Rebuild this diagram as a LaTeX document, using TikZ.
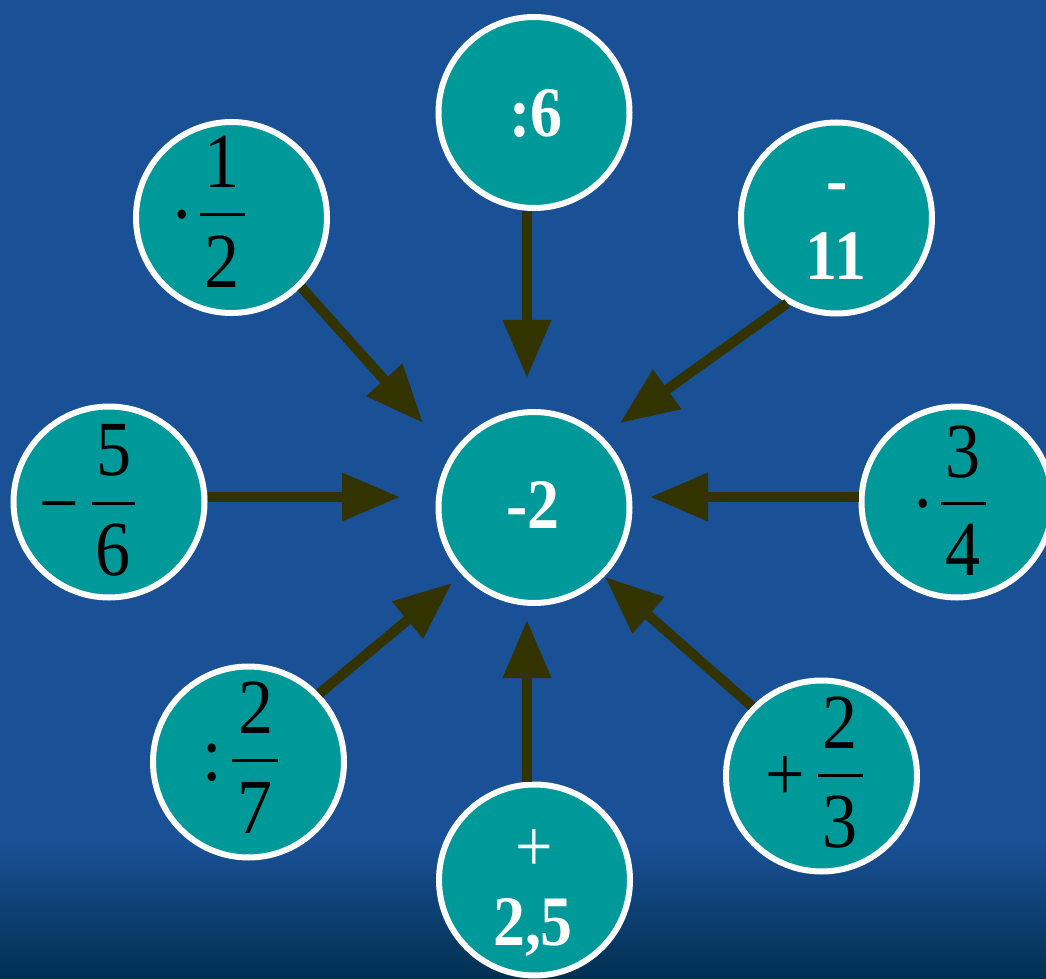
\documentclass[tikz,border=0pt]{standalone}
\usepackage{fontspec}
\setmainfont{Liberation Serif}[FakeStretch=0.9]
\usetikzlibrary{arrows.meta}
\definecolor{bgblue}{RGB}{26,80,150}
\definecolor{bgdark}{RGB}{2,48,82}
\definecolor{tealc}{RGB}{0,153,153}
\definecolor{arrc}{RGB}{51,51,0}
\tikzset{
  disc/.style={circle, draw=white, line width=3pt, fill=tealc, minimum size=95.5pt, inner sep=0pt},
  arr/.style={draw=arrc, line width=5pt, -{Triangle[length=29pt,width=23pt]}},
  wbold/.style={text=white, font=\fontsize{35.5}{42}\selectfont\bfseries, anchor=base, inner sep=0pt},
  wreg/.style={text=white, font=\fontsize{37}{44}\selectfont, anchor=base, inner sep=0pt},
  blk/.style={text=black, font=\fontsize{39}{46}\selectfont, anchor=base, inner sep=0pt},
  frline/.style={draw=black, line width=1.5pt},
}
\begin{document}
\begin{tikzpicture}[x=0.5pt,y=-0.5pt]
\useasboundingbox (0,0) rectangle (1046,979);
\clip (0,0) rectangle (1046,979);
\fill[bgblue] (0,0) rectangle (1046,979);
\shade[top color=bgblue, bottom color=bgdark] (0,840) rectangle (1046,979);

% circles
\node[disc] (c6)  at (534,112.5) {};
\node[disc] (cm2) at (534,507.5) {};
\node[disc] (c12) at (231.5,217.5) {};
\node[disc] (c11) at (836.5,218) {};
\node[disc] (c56) at (109,502) {};
\node[disc] (c34) at (957,502) {};
\node[disc] (c27) at (248.5,762) {};
\node[disc] (c25) at (534.5,880) {};
\node[disc] (c23) at (821.5,776) {};

% arrow tips
\coordinate (t6)  at (527,378);
\coordinate (t12) at (423,423);
\coordinate (t11) at (620,423);
\coordinate (t56) at (400,497);
\coordinate (t34) at (650,497);
\coordinate (t27) at (452,583);
\coordinate (t25) at (527,620);
\coordinate (t23) at (605,577);

\draw[arr] (c6.south -| t6) -- (t6);
\draw[arr] (c12.315) -- (t12);
\draw[arr] (c11.240) -- (t11);
\draw[arr] (c56.east |- t56) -- (t56);
\draw[arr] (c34.west |- t34) -- (t34);
\draw[arr] (c27.44) -- (t27);
\draw[arr] (c25.north -| t25) -- (t25);
\draw[arr] (c23.135) -- (t23);

% white labels
\node[wbold] (l6)   at (536,137) {:6};
\node[wbold] (lm2)  at (533,528) {-2};
\node[wbold] (l11a) at (837,204) {-};
\node[wbold] (l11b) at (836,280) {11};
\node[wreg]  (l25a) at (534.5,871) {+};
\node[wbold] (l25b) at (533,945) {2,5};

% 1/2
\node[blk] (n12) at (222,188) {1};
\node[blk] (d12) at (222.5,288) {2};
\draw[frline] (200,215) -- (245,215);
\node[blk] (o12) at (182,241) {·};
% 5/6
\node[blk] (n56) at (114,475) {5};
\node[blk] (d56) at (113,575) {6};
\draw[frline] (92,503) -- (135,503);
\node[blk] (o56) at (59.5,529) {−};
% 3/4
\node[blk] (n34) at (963,477) {3};
\node[blk] (d34) at (963,575) {4};
\draw[frline] (941,503) -- (986,503);
\node[blk] (o34) at (923,529) {·};
% 2/7
\node[blk] (n27) at (256,733) {2};
\node[blk] (d27) at (255,833) {7};
\draw[frline] (232,760) -- (278,760);
\node[blk] (o27) at (212,780) {:};
% 2/3
\node[blk] (n23) at (840,748) {2};
\node[blk] (d23) at (840,847) {3};
\draw[frline] (818,775) -- (863,775);
\node[blk] (o23) at (785.5,800) {+};
\end{tikzpicture}
\end{document}
